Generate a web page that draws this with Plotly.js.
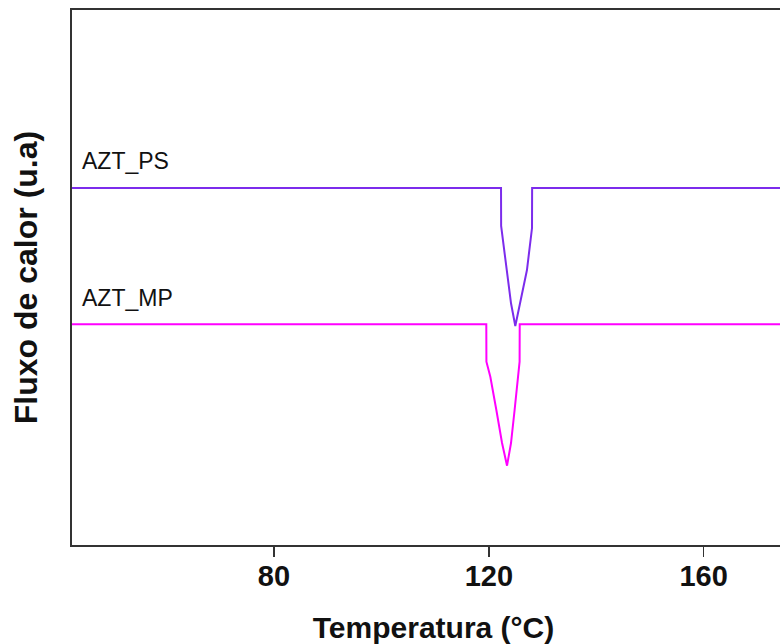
<!DOCTYPE html>
<html>
<head>
<meta charset="utf-8">
<script src="https://cdn.plot.ly/plotly-3.0.1.min.js"></script>
<style>
html,body{margin:0;padding:0;overflow:hidden;background:#fff;}
#chart{width:800px;height:644px;}
</style>
</head>
<body>
<div id="chart"></div>
<script>
// Temperature (°C) and heat-flow (a.u.) values
var psTemp = [30, 122.27, 122.29, 123.26, 124.13, 124.93, 125.86, 127.1, 128.04, 128.06, 190];
var psFlow = [357, 357, 319, 275, 241.7, 219, 242, 275, 317, 357, 357];

var mpTemp = [30, 119.53, 119.55, 120.28, 121.40, 122.46, 123.39, 124.13, 124.80, 125.43, 125.73, 125.75, 190];
var mpFlow = [220.7, 220.7, 183.3, 168.3, 135, 102, 79.3, 102, 135, 168.3, 183.3, 220.7, 220.7];

var tickVals = [80, 120, 160];
var tickText = ['80', '120', '160'];

var seriesNames = ['AZT_PS', 'AZT_MP'];
var labelX = [43.85, 43.85];
var labelY = [384, 247];

var traces = [
  {x: psTemp, y: psFlow, mode: 'lines', name: seriesNames[0], line: {color: '#7c2cec', width: 2}, hoverinfo: 'skip'},
  {x: mpTemp, y: mpFlow, mode: 'lines', name: seriesNames[1], line: {color: '#ff00ff', width: 2}, hoverinfo: 'skip'}
];

var annotations = seriesNames.map(function(n, i){
  return {x: labelX[i], y: labelY[i], xref: 'x', yref: 'y', text: n, showarrow: false,
          xanchor: 'left', yanchor: 'middle',
          font: {family: 'Liberation Sans, Arial, sans-serif', size: 23, color: '#111'}};
});

var layout = {
  width: 800, height: 644,
  margin: {l: 72, r: 5, t: 10, b: 99},
  paper_bgcolor: '#fff', plot_bgcolor: '#fff',
  showlegend: false,
  font: {family: 'Liberation Sans, Arial, sans-serif', color: '#111'},
  xaxis: {
    range: [42.4, 177], tickmode: 'array', tickvals: tickVals, ticktext: tickText,
    ticks: 'outside', ticklen: 10, tickwidth: 1.5, tickcolor: '#333',
    ticklabelstandoff: -6,
    showgrid: false, zeroline: false,
    showline: true, linecolor: '#333', linewidth: 2, mirror: true,
    tickfont: {size: 29, weight: 'bold', color: '#111'},
    title: {text: 'Temperatura (°C)', font: {size: 30, weight: 'bold', color: '#111'}, standoff: 27}
  },
  yaxis: {
    range: [0, 535], showticklabels: false, ticks: '',
    showgrid: false, zeroline: false,
    showline: true, linecolor: '#333', linewidth: 2, mirror: true,
    title: {text: 'Fluxo de calor (u.a)', font: {size: 32, weight: 'bold', color: '#111'}, standoff: 23}
  },
  annotations: annotations
};

Plotly.newPlot('chart', traces, layout, {displayModeBar: false, staticPlot: true});
</script>
</body>
</html>
